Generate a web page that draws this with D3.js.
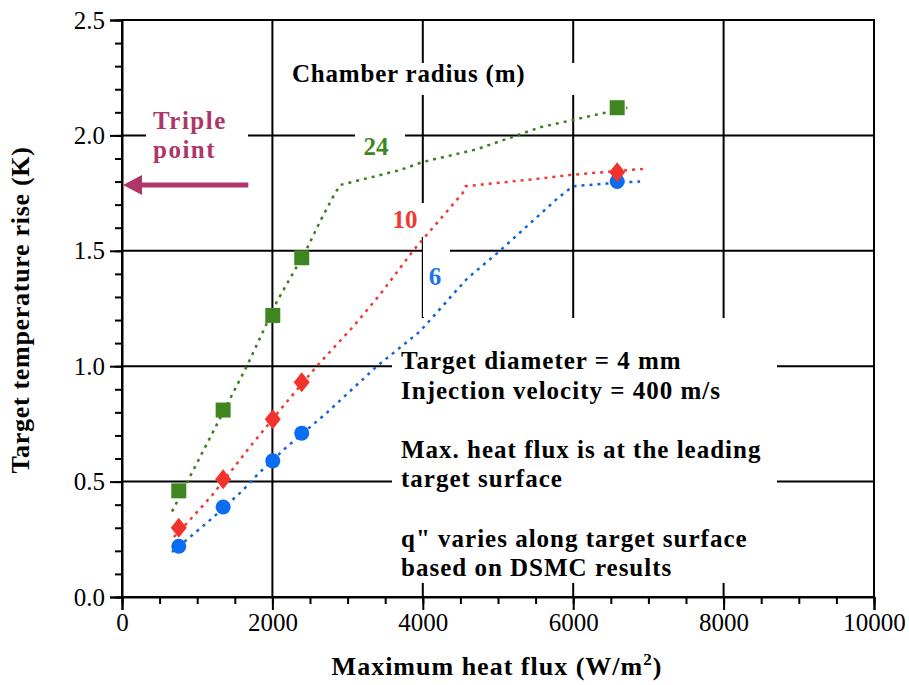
<!DOCTYPE html>
<html>
<head>
<meta charset="utf-8">
<script src="https://cdn.jsdelivr.net/npm/d3@7"></script>
<style>
  body { margin: 0; background: #fff; }
  svg text { font-family: "Liberation Serif", "DejaVu Serif", serif; }
</style>
</head>
<body>
<script>
(function() {
    'use strict';

    // measured points
    var flux = [755, 1345, 2005, 2390, 6585];
    var rise24 = [0.46, 0.81, 1.22, 1.47, 2.12];
    var rise10 = [0.30, 0.51, 0.77, 0.93, 1.84];
    var rise6 = [0.22, 0.39, 0.59, 0.71, 1.80];

    // dotted fit curves
    var fitX24 = [665, 1170, 1660, 2060, 2460, 2630, 2800, 2900, 3700, 4000, 4720, 5560, 6720];
    var fitY24 = [0.37, 0.69, 1.00, 1.28, 1.51, 1.625, 1.73, 1.785, 1.85, 1.885, 1.94, 2.035, 2.12];
    var fitX10 = [690, 864, 1197, 1700, 2190, 2590, 3070, 3430, 3870, 4530, 4570, 5470, 6000, 6930];
    var fitY10 = [0.26, 0.32, 0.44, 0.65, 0.845, 1.0, 1.17, 1.31, 1.50, 1.75, 1.78, 1.81, 1.83, 1.855];
    var fitX6 = [665, 890, 1170, 1600, 1800, 2190, 2730, 3390, 3960, 4590, 4990, 5650, 5800, 6000, 6580, 6890];
    var fitY6 = [0.195, 0.256, 0.333, 0.46, 0.53, 0.65, 0.80, 1.0, 1.15, 1.38, 1.49, 1.685, 1.73, 1.78, 1.795, 1.80];

    var xTicks = [0, 2000, 4000, 6000, 8000, 10000];
    var yTicks = [0, 0.5, 1.0, 1.5, 2.0, 2.5];
    var triplePoint = 1.785;

    var width = 909, height = 685;
    var x = d3.scaleLinear().domain([0, 10000]).range([122, 874]);
    var y = d3.scaleLinear().domain([0, 2.5]).range([597, 20]);

    var svg = d3.select('body').append('svg')
        .attr('width', width)
        .attr('height', height);

    // grid
    var grid = svg.append('g').attr('stroke', '#000').attr('stroke-width', 2);
    grid.selectAll('.vg').data(xTicks.slice(1, -1)).enter().append('line')
        .attr('x1', function(d) { return x(d); })
        .attr('x2', function(d) { return x(d); })
        .attr('y1', y(0)).attr('y2', y(2.5));
    grid.selectAll('.hg').data(yTicks.slice(1, -1)).enter().append('line')
        .attr('x1', x(0)).attr('x2', x(10000))
        .attr('y1', function(d) { return y(d); })
        .attr('y2', function(d) { return y(d); });

    // white boxes behind labels
    var boxes = [
        [146, 100, 102, 70],
        [355, 125, 50, 35],
        [280, 63, 310, 32],
        [390, 203, 34, 34],
        [423, 237, 27, 80],
        [392, 318, 385, 265]
    ];
    svg.selectAll('.box').data(boxes).enter().append('rect')
        .attr('x', function(d) { return d[0]; })
        .attr('y', function(d) { return d[1]; })
        .attr('width', function(d) { return d[2]; })
        .attr('height', function(d) { return d[3]; })
        .attr('fill', '#fff');

    // frame
    svg.append('rect')
        .attr('x', x(0)).attr('y', y(2.5))
        .attr('width', x(10000) - x(0))
        .attr('height', y(0) - y(2.5))
        .attr('fill', 'none').attr('stroke', '#000').attr('stroke-width', 2);

    // axes
    var yAxis = svg.append('g').attr('transform', 'translate(' + x(0) + ',0)')
        .call(d3.axisLeft(y).tickValues(yTicks).tickSize(12).tickPadding(5).tickFormat(d3.format('.1f')));
    svg.append('g').attr('transform', 'translate(' + x(0) + ',0)')
        .call(d3.axisLeft(y).tickValues(d3.range(0, 26).map(function(i) { return i / 10; })).tickSize(7).tickFormat(''))
        .select('.domain').remove();
    var xAxis = svg.append('g').attr('transform', 'translate(0,' + y(0) + ')')
        .call(d3.axisBottom(x).tickValues(xTicks).tickSize(13).tickPadding(3).tickFormat(d3.format('d')));
    svg.append('g').attr('transform', 'translate(0,' + y(0) + ')')
        .call(d3.axisBottom(x).tickValues(d3.range(0, 10001, 500)).tickSize(7).tickFormat(''))
        .select('.domain').remove();
    svg.selectAll('.tick line, .domain').attr('stroke-width', 2);
    [yAxis, xAxis].forEach(function(ax) {
        ax.attr('font-family', null).attr('font-size', null);
        ax.selectAll('text')
            .style('font-family', '"Liberation Serif", serif')
            .style('font-size', '25px');
    });

    // fit lines
    var line = d3.line()
        .x(function(d) { return x(d[0]); })
        .y(function(d) { return y(d[1]); });
    var fits = [
        { xs: fitX24, ys: fitY24, color: '#3b7f1d' },
        { xs: fitX10, ys: fitY10, color: '#ef3a34' },
        { xs: fitX6, ys: fitY6, color: '#0f62d8' }
    ];
    fits.forEach(function(f) {
        svg.append('path')
            .datum(d3.zip(f.xs, f.ys))
            .attr('d', line)
            .attr('fill', 'none')
            .attr('stroke', f.color)
            .attr('stroke-width', 2.5)
            .attr('stroke-dasharray', '3,5');
    });

    // markers
    svg.selectAll('.sq').data(d3.zip(flux, rise24)).enter().append('rect')
        .attr('x', function(d) { return x(d[0]) - 7.5; })
        .attr('y', function(d) { return y(d[1]) - 7.5; })
        .attr('width', 15).attr('height', 15)
        .attr('fill', '#3e861f');
    svg.selectAll('.ci').data(d3.zip(flux, rise6)).enter().append('circle')
        .attr('cx', function(d) { return x(d[0]); })
        .attr('cy', function(d) { return y(d[1]); })
        .attr('r', 7.5)
        .attr('fill', '#0a6cf0');
    svg.selectAll('.di').data(d3.zip(flux, rise10)).enter().append('path')
        .attr('transform', function(d) { return 'translate(' + x(d[0]) + ',' + y(d[1]) + ')'; })
        .attr('d', 'M0,-10L8,0L0,10L-8,0Z')
        .attr('fill', '#f2332b');

    // triple point arrow
    var tpColor = '#ae3668';
    svg.append('line')
        .attr('x1', x(1680)).attr('x2', x(0) + 16)
        .attr('y1', y(triplePoint)).attr('y2', y(triplePoint))
        .attr('stroke', tpColor).attr('stroke-width', 5);
    svg.append('path')
        .attr('d', 'M' + (x(0) + 1) + ',' + y(triplePoint) + 'l19,-10v20z')
        .attr('fill', tpColor);

    // labels
    function label(t, px, py, size, color, anchor, spacing) {
        return svg.append('text')
            .attr('x', px).attr('y', py)
            .attr('font-size', size)
            .attr('font-weight', 'bold')
            .attr('letter-spacing', spacing || 0)
            .attr('fill', color || '#000')
            .attr('text-anchor', anchor || 'start')
            .text(t);
    }
    label('Triple', 153, 129, 25, tpColor, 'start', 1.5);
    label('point', 153, 158, 25, tpColor, 'start', 1.5);
    label('Chamber radius (m)', 292, 82, 25, '#000', 'start', 0.8);
    label('24', 376, 155, 25, '#3e861f', 'middle');
    label('10', 405, 228, 25, '#ef3a34', 'middle');
    label('6', 435, 285, 25, '#1a72f0', 'middle');

    var notes = [
        ['Target diameter = 4 mm', 369],
        ['Injection velocity = 400 m/s', 399],
        ['Max. heat flux is at the leading', 458],
        ['target surface', 487],
        ['q" varies along target surface', 547],
        ['based on DSMC results', 576]
    ];
    notes.forEach(function(n) { label(n[0], 401, n[1], 25, '#000', 'start', 1); });

    // axis titles
    var xt = label('Maximum heat flux (W/m', 497, 675, 26, '#000', 'middle', 1);
    xt.append('tspan').attr('dy', -10).attr('font-size', 17).text('2');
    xt.append('tspan').attr('dy', 10).text(')');
    svg.append('text')
        .attr('transform', 'translate(29,310) rotate(-90)')
        .attr('text-anchor', 'middle')
        .attr('font-size', 26)
        .attr('font-weight', 'bold')
        .attr('letter-spacing', 0.7)
        .text('Target temperature rise (K)');
}());
</script>
</body>
</html>
